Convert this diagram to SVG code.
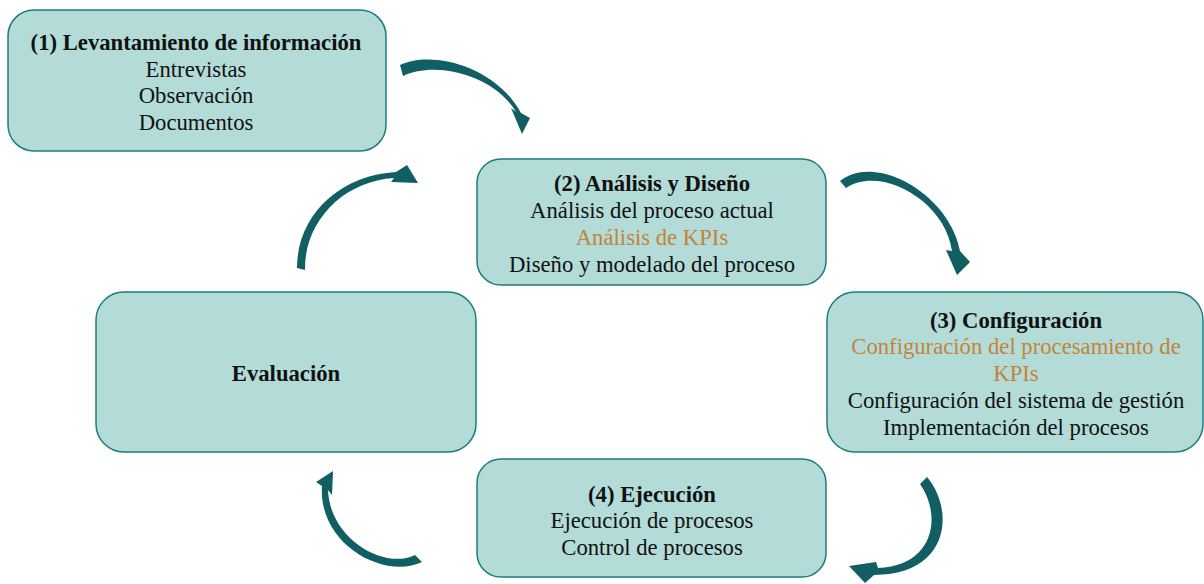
<svg xmlns="http://www.w3.org/2000/svg" width="1204" height="584" viewBox="0 0 1204 584">
  <style>
    .box { fill: #b3dcd8; stroke: #1e7b80; stroke-width: 1.5; }
    .t { font-size: 22.7px; fill: #111; text-anchor: middle; }
    .b { font-weight: bold; }
    .kpi { fill: #c4833b; }
    .arrow { fill: #115e63; }
  </style>
  <rect width="1204" height="584" fill="#ffffff"/>

  <g id="connectors">
    <path class="arrow" d="M 400 65 C 430 50 495 65 521 113 L 530 118 L 522 134 L 511 108 L 516 112 C 495 75 435 60 403 76 Z"/>
    <path class="arrow" d="M 840 181 C 876 152 950 195 960 251 L 970 262 L 957 275 L 946 250 L 952 251 C 945 200 880 165 846 188 Z"/>
    <path class="arrow" d="M 927 477 C 955 510 950 575 874 575 L 865 583 L 849 566 L 876 562 L 878 568 C 935 566 942 515 920 484 Z"/>
    <path class="arrow" d="M 422 562 C 385 580 318 545 322 486 L 316 482 L 333 471 L 332 495 L 328 490 C 330 540 385 570 415 555 Z"/>
    <path class="arrow" d="M 297 268 C 297 215 340 175 396 172 L 407 165 L 418 183 L 391 182 L 394 178 C 343 181 304 222 305 270 Z"/>
  </g>

  <g font-family="'Liberation Serif', Tinos, 'Times New Roman', 'DejaVu Serif', serif">
  <g id="node-levantamiento">
    <rect class="box" x="8" y="10" width="378" height="141" rx="26"/>
    <text class="t b" x="196" y="50">(1) Levantamiento de información</text>
    <text class="t" x="196" y="77">Entrevistas</text>
    <text class="t" x="196" y="103">Observación</text>
    <text class="t" x="196" y="130">Documentos</text>
  </g>

  <g id="node-analisis">
    <rect class="box" x="477" y="159" width="349" height="126" rx="24"/>
    <text class="t b" x="652" y="191">(2) Análisis y Diseño</text>
    <text class="t" x="652" y="218">Análisis del proceso actual</text>
    <text class="t kpi" x="652" y="245">Análisis de KPIs</text>
    <text class="t" x="652" y="272">Diseño y modelado del proceso</text>
  </g>

  <g id="node-evaluacion">
    <rect class="box" x="96" y="292" width="380" height="160" rx="28"/>
    <text class="t b" x="286" y="381">Evaluación</text>
  </g>

  <g id="node-configuracion">
    <rect class="box" x="827" y="292" width="376" height="160" rx="28"/>
    <text class="t b" x="1016" y="328">(3) Configuración</text>
    <text class="t kpi" x="1016" y="354">Configuración del procesamiento de</text>
    <text class="t kpi" x="1016" y="381">KPIs</text>
    <text class="t" x="1016" y="408">Configuración del sistema de gestión</text>
    <text class="t" x="1016" y="435">Implementación del procesos</text>
  </g>

  <g id="node-ejecucion">
    <rect class="box" x="477" y="459" width="349" height="118" rx="24"/>
    <text class="t b" x="652" y="502">(4) Ejecución</text>
    <text class="t" x="652" y="528">Ejecución de procesos</text>
    <text class="t" x="652" y="555">Control de procesos</text>
  </g>
  </g>
</svg>
